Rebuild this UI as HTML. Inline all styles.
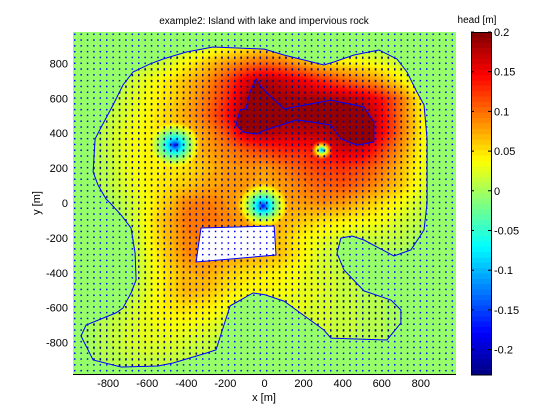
<!DOCTYPE html>
<html><head><meta charset="utf-8"><style>
html,body{margin:0;padding:0;background:#fff;width:560px;height:420px;overflow:hidden}
#wrap{position:relative;width:560px;height:420px;font-family:"Liberation Sans",sans-serif}
canvas{position:absolute;left:73px;top:32px}
svg{position:absolute;left:0;top:0}
text{font-family:"Liberation Sans",sans-serif;fill:#000}
</style></head><body>
<div id="wrap">
<canvas id="field" width="383" height="342"></canvas>
<svg id="ov" width="560" height="420"></svg>
</div>
<script>
// ---- data ----
const gridX = [-900,-800,-700,-600,-500,-400,-300,-200,-100,0,100,200,300,400,500,600,700,800,900];
const gridY = [900,800,700,600,500,400,300,200,100,0,-100,-200,-300,-400,-500,-600,-700,-800,-900];
const headRows = [
[0,0,0,0,0,0.01,0.02,0.03,0.04,0.05,0.04,0.03,0.02,0.01,0,0,0,0,0],
[0,0,0,0.01,0.02,0.04,0.06,0.08,0.095,0.105,0.095,0.075,0.055,0.045,0.04,0.03,0.015,0,0],
[0,0,0.015,0.03,0.045,0.065,0.085,0.115,0.155,0.18,0.165,0.15,0.13,0.11,0.095,0.075,0.045,0.01,0],
[0,0.005,0.02,0.035,0.05,0.07,0.095,0.125,0.175,0.19,0.185,0.18,0.18,0.175,0.165,0.14,0.095,0.04,0],
[0,0.01,0.025,0.04,0.055,0.075,0.1,0.135,0.19,0.19,0.19,0.19,0.19,0.19,0.19,0.15,0.095,0.045,0],
[0,0.015,0.03,0.04,0.05,0.06,0.08,0.11,0.165,0.18,0.17,0.17,0.175,0.19,0.19,0.15,0.095,0.045,0],
[0,0.015,0.03,0.04,0.05,0.06,0.075,0.09,0.105,0.12,0.13,0.13,0.145,0.16,0.16,0.12,0.08,0.04,0],
[0,0.01,0.03,0.04,0.045,0.05,0.065,0.08,0.085,0.08,0.095,0.11,0.12,0.125,0.115,0.095,0.065,0.035,0],
[0,0.01,0.025,0.04,0.05,0.06,0.075,0.08,0.08,0.07,0.08,0.095,0.105,0.11,0.1,0.08,0.06,0.03,0],
[0,0,0.015,0.035,0.06,0.09,0.095,0.085,0.07,0.06,0.075,0.08,0.085,0.08,0.065,0.05,0.035,0.015,0],
[0,0,0.01,0.04,0.07,0.095,0.1,0.09,0.08,0.075,0.07,0.06,0.05,0.045,0.04,0.035,0.02,0.01,0],
[0,0,0,0.035,0.065,0.09,0.095,0.085,0.08,0.075,0.06,0.04,0.03,0.02,0.015,0.015,0.01,0,0],
[0,0,0,0.03,0.06,0.085,0.09,0.08,0.075,0.07,0.06,0.04,0.02,0.01,0,0,0,0,0],
[0,0,0,0.025,0.05,0.07,0.075,0.06,0.05,0.045,0.04,0.03,0.02,0.015,0.01,0.005,0,0,0],
[0,0,0.005,0.025,0.05,0.07,0.065,0.05,0.04,0.04,0.035,0.03,0.025,0.015,0.01,0.005,0,0,0],
[0,0.005,0.015,0.03,0.045,0.05,0.045,0.035,0.02,0.02,0.025,0.025,0.02,0.015,0.01,0.005,0,0,0],
[0,0.01,0.02,0.03,0.035,0.035,0.03,0.02,0.01,0.01,0.02,0.025,0.02,0.015,0.01,0.005,0,0,0],
[0,0.01,0.02,0.025,0.025,0.02,0.015,0.01,0.005,0.005,0.01,0.015,0.015,0.01,0.01,0.005,0,0,0],
[0,0.005,0.01,0.015,0.015,0.01,0.01,0.005,0,0,0.005,0.01,0.01,0.005,0.005,0,0,0,0]
];
const wellX = [-458, -8, 294];
const wellY = [332, -17, 304];
const wellHead = [-0.225, -0.225, -0.2];
const wellRadius = [130, 130, 55];
const seaHead = -0.005;
const lakeHead = 0.19;
const islandX = [-263,-402,-519,-586,-673,-724,-775,-841,-867,-877,-852,-811,-790,-734,-683,-662,-657,-683,-724,-760,-913,-939,-877,-734,-545,-468,-299,-248,-176,-59,0,100,304,340,627,698,698,647,509,407,371,391,448,509,662,749,816,832,832,816,780,729,678,586,458,355,304,100,0];
const islandY = [894,865,825,797,751,676,562,424,367,178,103,23,0,-69,-143,-287,-441,-516,-602,-630,-699,-762,-900,-940,-934,-917,-860,-842,-590,-516,-525,-562,-728,-774,-785,-688,-613,-556,-504,-384,-287,-201,-189,-212,-304,-269,-155,0,367,562,636,751,825,877,848,808,791,848,882];
const lakeX = [-43,-23,3,100,340,509,560,560,473,391,340,166,3,-43,-110,-146,-125,-95,-74];
const lakeY = [711,676,642,539,590,550,464,350,332,367,447,476,418,395,407,447,533,539,636];
const rockX = [-325,49,59,-350];
const rockY = [-143,-132,-298,-338];
const xTicks = [-800,-600,-400,-200,0,200,400,600,800];
const yTicks = [800,600,400,200,0,-200,-400,-600,-800];
const cbTicks = [0.2,0.15,0.1,0.05,0,-0.05,-0.1,-0.15,-0.2];
const cbTickLabels = ["0.2","0.15","0.1","0.05","0","-0.05","-0.1","-0.15","-0.2"];
const vmin = -0.232, vmax = 0.2;

// ---- axes ----
const L=73,R=456,T=32,B=374;
const X = x => L + (x + 980) / 1960 * (R - L);
const Y = y => B - (y + 980) / 1960 * (B - T);
const invX = px => (px - L) / (R - L) * 1960 - 980;
const invY = py => (B - py) / (B - T) * 1960 - 980;
const CBT=32, CBB=375;
const CY = v => CBB - (v - vmin) / (vmax - vmin) * (CBB - CBT);

function jet(v){
  let t=(v-vmin)/(vmax-vmin);
  let k=Math.floor(t*64); if(k<0)k=0; if(k>63)k=63;
  const q=(k+0.5)/64;
  const c=a=>Math.round(255*Math.max(0,Math.min(1,a)));
  return [c(1.5-Math.abs(4*q-3)),c(1.5-Math.abs(4*q-2)),c(1.5-Math.abs(4*q-1))];
}
const rgb = a => `rgb(${a[0]},${a[1]},${a[2]})`;

function field(x,y){
  let gx=(x-gridX[0])/100, gy=(gridY[0]-y)/100;
  gx=Math.max(0,Math.min(gridX.length-1.0001,gx));
  gy=Math.max(0,Math.min(gridY.length-1.0001,gy));
  const i=Math.floor(gx), j=Math.floor(gy), fx=gx-i, fy=gy-j;
  let v=headRows[j][i]*(1-fx)*(1-fy)+headRows[j][i+1]*fx*(1-fy)+headRows[j+1][i]*(1-fx)*fy+headRows[j+1][i+1]*fx*fy;
  for(let w=0;w<wellX.length;w++){
    const d=Math.hypot(x-wellX[w],y-wellY[w])/wellRadius[w];
    if(d<1){ const f=1-Math.sqrt(d); v=v+(wellHead[w]-v)*f; }
  }
  return v;
}

// ---- heatmap ----
const cv=document.getElementById('field'), ctx=cv.getContext('2d');
const img=ctx.createImageData(cv.width,cv.height);
for(let py=0;py<cv.height;py++){
  for(let px=0;px<cv.width;px++){
    const c=jet(field(invX(L+px+0.5),invY(T+py+0.5)));
    const o=(py*cv.width+px)*4;
    img.data[o]=c[0];img.data[o+1]=c[1];img.data[o+2]=c[2];img.data[o+3]=255;
  }
}
ctx.putImageData(img,0,0);

// ---- overlay ----
const NS='http://www.w3.org/2000/svg', svg=document.getElementById('ov');
function mk(tag,attrs,parent){const e=document.createElementNS(NS,tag);for(const k in attrs)e.setAttribute(k,attrs[k]);(parent||svg).appendChild(e);return e;}
const poly=(xs,ys)=>xs.map((x,i)=>(i?'L':'M')+X(x).toFixed(1)+' '+Y(ys[i]).toFixed(1)).join(' ')+' Z';

const defs=mk('defs',{});
const p1=mk('pattern',{id:'dots',patternUnits:'userSpaceOnUse',x:74,y:33.5,width:6.4,height:5.8},defs);
mk('rect',{x:0,y:0,width:1.5,height:1.5,fill:'#0000ff'},p1);
const p2=mk('pattern',{id:'dash',patternUnits:'userSpaceOnUse',x:74,y:33.5,width:6.4,height:5.8},defs);
mk('rect',{x:0,y:-0.6,width:1.5,height:2.8,fill:'#0a0a70'},p2);
const cp=mk('clipPath',{id:'isl'},defs);
mk('path',{d:poly(islandX,islandY)},cp);

const sea=mk('path',{d:`M${L} ${T} H${R} V${B} H${L} Z `+poly(islandX,islandY),'fill-rule':'evenodd',fill:rgb(jet(seaHead))});


const lake=mk('path',{d:poly(lakeX,lakeY),fill:rgb(jet(lakeHead))});


const dots=mk('rect',{x:L,y:T,width:R-L,height:B-T,fill:'url(#dots)'});


const dash=mk('rect',{x:L,y:T,width:R-L,height:B-T,fill:'url(#dash)','clip-path':'url(#isl)'});


const rock=mk('path',{d:poly(rockX,rockY),fill:'#fff'});


const rockDots=mk('path',{d:poly(rockX,rockY),fill:'url(#dots)',stroke:'#0000ff','stroke-width':1});


const isl=mk('path',{d:poly(islandX,islandY),fill:'none',stroke:'#0000ff','stroke-width':1});


const lk=mk('path',{d:poly(lakeX,lakeY),fill:'none',stroke:'#0000ff','stroke-width':1});


const ax=mk('line',{x1:L,y1:B+0.5,x2:R,y2:B+0.5,stroke:'#000','stroke-width':1});



xTicks.forEach(v=>{
  const t=mk('text',{x:X(v),y:B+13,'font-size':11,'text-anchor':'middle'});t.textContent=v;
  
  
});
yTicks.forEach(v=>{
  const t=mk('text',{x:L-5,y:Y(v)+4,'font-size':11,'text-anchor':'end'});t.textContent=v;
  
  
});
const xt=mk('text',{x:264,y:401,'font-size':11,'text-anchor':'middle'});xt.textContent='x [m]';


const yt=mk('text',{x:0,y:0,'font-size':11,'text-anchor':'middle',transform:'translate(40,203) rotate(-90)'});yt.textContent='y [m]';


const tt=mk('text',{x:264,y:24,'font-size':10,'text-anchor':'middle'});tt.textContent='example2: Island with lake and impervious rock';



// colorbar
for(let k=0;k<64;k++){
  const v0=vmin+(vmax-vmin)*k/64, v1=vmin+(vmax-vmin)*(k+1)/64;
  const r=mk('rect',{x:471,y:CY(v1),width:20,height:CY(v0)-CY(v1)+0.3,fill:rgb(jet((v0+v1)/2))});
  
  
}
const cbb=mk('rect',{x:471.5,y:CBT+0.5,width:20,height:CBB-CBT-0.5,fill:'none',stroke:'#000','stroke-width':1});


cbTicks.forEach((v,i)=>{
  const y=CY(v);
  const tk=mk('path',{d:`M471 ${y} h3 M491 ${y} h-3`,stroke:'#000','stroke-width':1});
  
  
  const t=mk('text',{x:494,y:y+4,'font-size':11});t.textContent=cbTickLabels[i];
  
  
});
const ct=mk('text',{x:477,y:23,'font-size':10,'text-anchor':'middle'});ct.textContent='head [m]';


</script>
</body></html>
